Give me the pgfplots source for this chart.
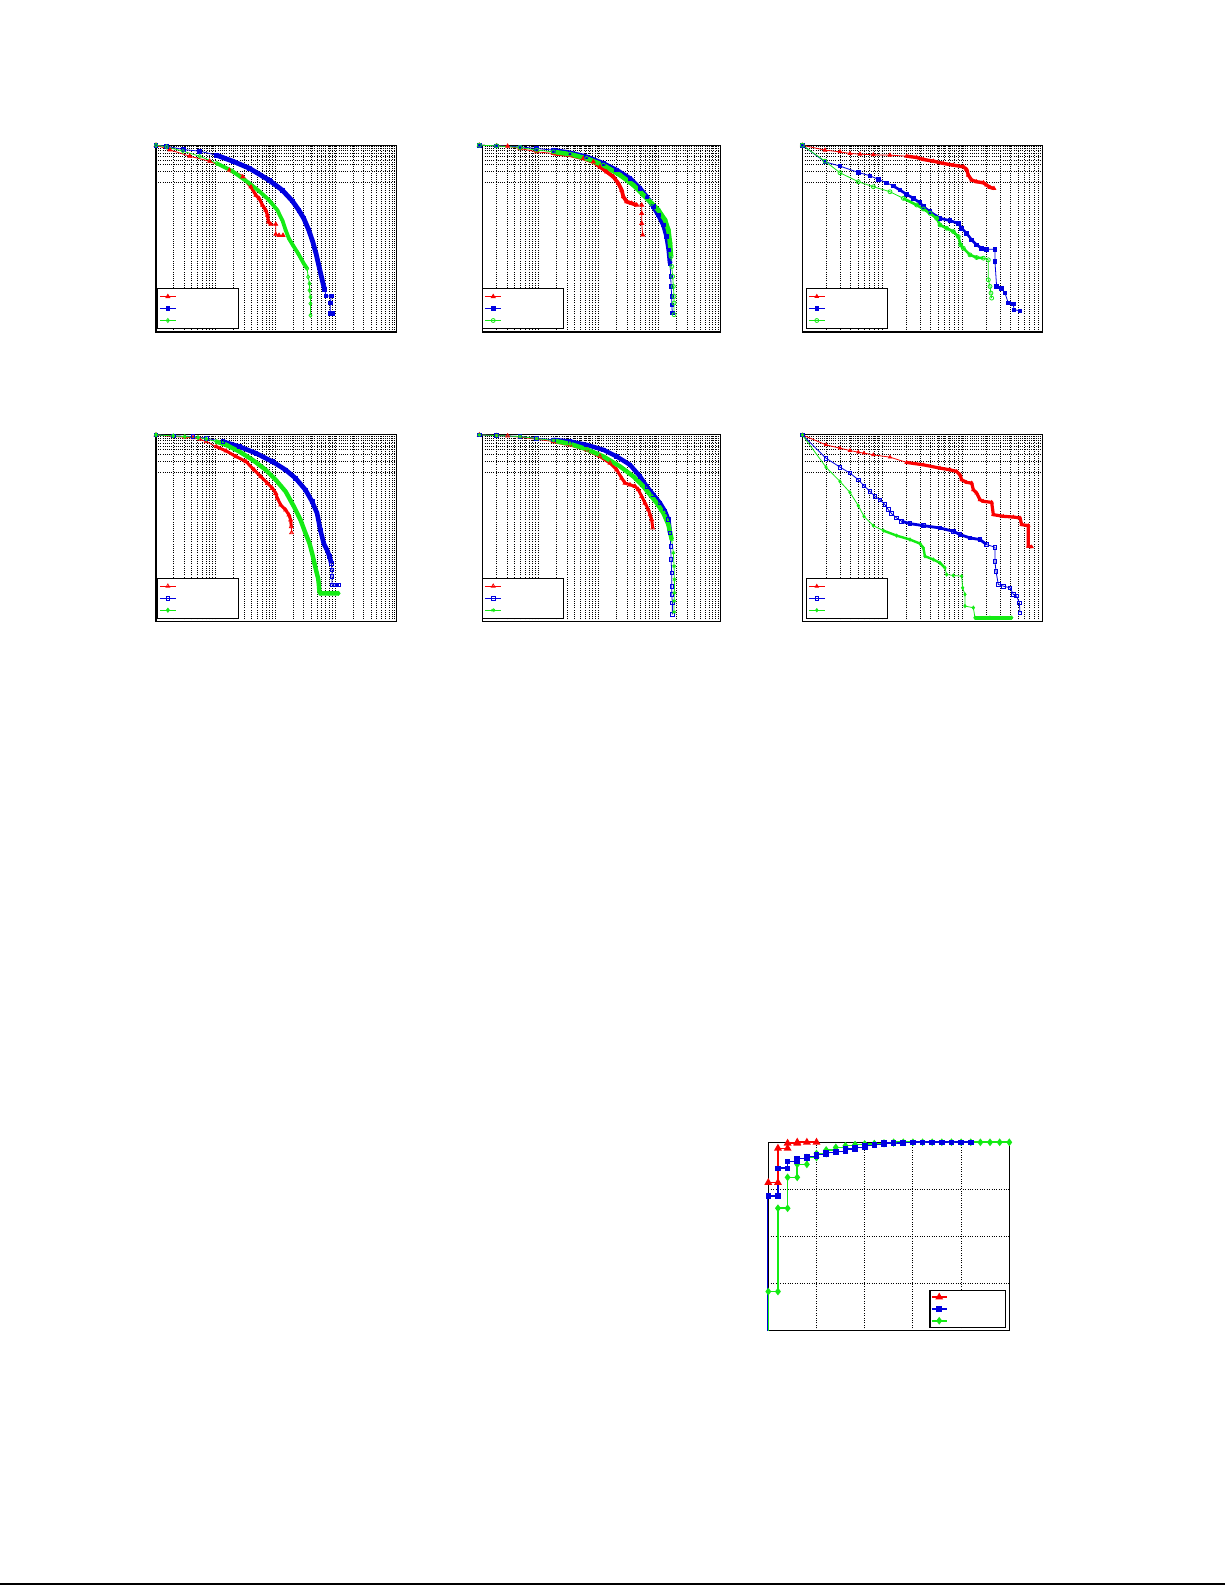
\documentclass[border=0pt]{standalone}
\usepackage{pgfplots}
\pgfplotsset{compat=1.18}
\usepackage{pgfplotstable}
\definecolor{cr}{RGB}{250,0,0}
\definecolor{cb}{RGB}{0,0,225}
\definecolor{cg}{RGB}{20,235,20}
\newcommand{\E}{\makebox[27bp]{\rule[-1.5bp]{0pt}{3bp}}}
\newcommand{\EB}{\makebox[26bp]{\rule[-2bp]{0pt}{4bp}}}
\pgfplotsset{
  ccdf/.style={
    scale only axis, height=93.4bp,
    ymin=-5, ymax=0,
    ytick={-1}, minor ytick={-0.699,-0.523,-0.398,-0.301,-0.222,-0.155,-0.097,-0.046},
    xticklabel=\empty, yticklabel=\empty,
    xmajorgrids, xminorgrids, ymajorgrids, yminorgrids,
    major grid style={black, line width=0.5bp, dash pattern=on 0.5bp off 0.6bp},
    minor grid style={black, line width=0.5bp, dash pattern=on 0.5bp off 0.6bp},
    major tick length=0pt, minor tick length=0pt,
    axis line style={line width=0.55bp},
    legend style={anchor=south west, draw=black, line width=0.5bp, inner sep=1bp,
      row sep=0pt, font=\tiny, nodes={inner sep=1.5bp}, fill=white},
    legend image code/.code={\draw[mark repeat=2,mark phase=2,#1] plot coordinates {(0bp,0bp) (4bp,0bp) (8bp,0bp)};},
    legend entries={\E,\E,\E},
  },
  mx4/.style={xtick={1,2,3,4}, minor xtick={0.301,0.477,0.602,0.699,0.778,0.845,0.903,0.954,
      1.301,1.477,1.602,1.699,1.778,1.845,1.903,1.954,
      2.301,2.477,2.602,2.699,2.778,2.845,2.903,2.954,
      3.301,3.477,3.602,3.699,3.778,3.845,3.903,3.954}},
  mx3/.style={xtick={1,2}, minor xtick={0.301,0.477,0.602,0.699,0.778,0.845,0.903,0.954,
      1.301,1.477,1.602,1.699,1.778,1.845,1.903,1.954,
      2.301,2.477,2.602,2.699,2.778,2.845,2.903,2.954}},
  ser/.style={line width=0.4bp, mark size=1pt, mark options={solid, line width=0.4bp}},
  dense/.style={line width=1.6bp, forget plot, no markers},
}
% ---------------- P1 ----------------
\pgfplotstableread{
x y
0.000 0.000
0.233 -0.125
0.565 -0.295
0.898 -0.429
1.230 -0.670
1.452 -0.848
1.590 -1.116
1.673 -1.339
1.729 -1.429
1.784 -1.607
1.839 -1.741
1.867 -1.875
1.884 -2.054
1.922 -2.116
2.006 -2.116
2.006 -2.384
2.061 -2.411
2.127 -2.411
}\tAr
\pgfplotstableread{
x y
0.000 0.000
0.177 -0.027
0.454 -0.116
0.731 -0.161
1.014 -0.268
1.285 -0.429
1.562 -0.616
1.895 -0.938
2.116 -1.205
2.283 -1.491
2.393 -1.741
2.476 -1.964
2.560 -2.277
2.626 -2.589
2.681 -2.902
2.726 -3.214
2.765 -3.482
2.798 -3.705
2.825 -3.866
2.848 -4.036
2.936 -4.036
2.920 -4.223
2.920 -4.509
2.958 -4.509
}\tAb
\pgfplotstableread{
x y
0.000 0.000
0.177 -0.045
0.449 -0.161
0.731 -0.295
1.014 -0.482
1.280 -0.696
1.562 -1.018
1.729 -1.232
1.895 -1.473
2.033 -1.741
2.116 -2.009
2.172 -2.277
2.227 -2.500
2.294 -2.679
2.382 -2.902
2.476 -3.170
2.532 -3.304
2.548 -3.527
2.571 -3.705
2.571 -3.884
2.587 -4.063
2.587 -4.241
2.587 -4.554
}\tAg
% ---------------- P2 ----------------
\pgfplotstableread{
x y
0.011 0.000
0.300 -0.018
0.483 -0.027
0.689 -0.089
0.967 -0.178
1.244 -0.222
1.522 -0.267
1.744 -0.356
1.911 -0.445
2.022 -0.578
2.133 -0.712
2.244 -0.845
2.328 -1.024
2.383 -1.202
2.411 -1.380
2.467 -1.513
2.550 -1.557
2.633 -1.602
2.717 -1.602
2.717 -1.825
2.717 -2.091
2.733 -2.402
}\tBr
\pgfplotstableread{
x y
0.011 0.000
0.300 -0.018
0.689 -0.044
0.967 -0.089
1.244 -0.133
1.522 -0.205
1.800 -0.311
2.078 -0.489
2.300 -0.667
2.522 -0.890
2.689 -1.157
2.800 -1.379
2.911 -1.645
2.994 -1.868
3.078 -2.135
3.133 -2.447
3.167 -2.803
3.189 -3.158
3.200 -3.514
3.206 -3.781
3.217 -4.048
3.217 -4.270
3.228 -4.493
}\tBb
\pgfplotstableread{
x y
0.011 0.000
0.300 -0.018
0.689 -0.062
0.967 -0.133
1.244 -0.178
1.522 -0.240
1.800 -0.356
2.078 -0.534
2.356 -0.801
2.578 -1.068
2.744 -1.335
2.883 -1.557
2.994 -1.735
3.106 -2.002
3.161 -2.269
3.189 -2.625
3.206 -2.980
3.217 -3.247
3.233 -3.514
3.244 -3.781
3.256 -4.048
3.256 -4.226
3.256 -4.537
}\tBg
% ---------------- P3 ----------------
\pgfplotstableread{
x y
0.000 0.000
0.283 -0.133
0.471 -0.178
0.596 -0.222
0.721 -0.240
0.888 -0.258
1.096 -0.267
1.304 -0.294
1.429 -0.329
1.513 -0.383
1.638 -0.427
1.763 -0.489
1.888 -0.534
2.013 -0.578
2.054 -0.649
2.075 -0.801
2.117 -0.934
2.179 -0.979
2.263 -1.005
2.304 -1.068
2.346 -1.130
2.396 -1.157
}\tCr
\pgfplotstableread{
x y
0.000 0.000
0.283 -0.445
0.471 -0.560
0.700 -0.730
0.846 -0.819
0.950 -0.916
1.054 -1.005
1.138 -1.094
1.221 -1.201
1.304 -1.317
1.388 -1.423
1.471 -1.539
1.513 -1.646
1.596 -1.779
1.721 -1.957
1.846 -2.020
1.950 -2.091
1.992 -2.224
2.054 -2.358
2.117 -2.536
2.179 -2.669
2.242 -2.758
2.304 -2.785
2.408 -2.785
2.408 -3.114
2.429 -3.781
2.492 -3.826
2.533 -3.959
2.575 -4.226
2.638 -4.253
2.646 -4.404
2.721 -4.431
}\tCb
\pgfplotstableread{
x y
0.000 0.000
0.283 -0.427
0.471 -0.738
0.700 -0.979
0.888 -1.112
1.096 -1.246
1.263 -1.423
1.429 -1.601
1.513 -1.708
1.596 -1.824
1.679 -1.957
1.721 -2.135
1.804 -2.224
1.888 -2.313
1.950 -2.447
1.979 -2.669
2.013 -2.758
2.096 -2.936
2.179 -3.007
2.263 -3.025
2.325 -3.069
2.325 -3.603
2.346 -3.781
2.358 -3.959
2.367 -4.093
}\tCg
% ---------------- P4 ----------------
\pgfplotstableread{
x y
0.000 0.000
0.288 -0.045
0.482 -0.063
0.620 -0.071
0.731 -0.116
0.842 -0.179
1.008 -0.313
1.175 -0.429
1.341 -0.580
1.507 -0.714
1.645 -0.938
1.756 -1.116
1.867 -1.295
1.950 -1.429
2.006 -1.563
2.033 -1.696
2.089 -1.875
2.172 -2.009
2.227 -2.143
2.255 -2.277
2.266 -2.455
2.271 -2.616
}\tDr
\pgfplotstableread{
x y
0.000 0.000
0.288 -0.027
0.620 -0.045
0.842 -0.089
1.119 -0.179
1.396 -0.313
1.673 -0.491
1.950 -0.714
2.172 -0.938
2.338 -1.161
2.504 -1.473
2.615 -1.786
2.698 -2.098
2.753 -2.545
2.809 -2.902
2.864 -3.080
2.909 -3.259
2.936 -3.438
2.947 -3.616
2.947 -3.795
2.947 -4.018
3.003 -4.018
3.058 -4.018
}\tDb
\pgfplotstableread{
x y
0.000 0.000
0.288 -0.027
0.482 -0.045
0.704 -0.071
0.842 -0.107
1.008 -0.179
1.175 -0.268
1.396 -0.446
1.618 -0.670
1.839 -0.938
2.006 -1.205
2.172 -1.518
2.310 -1.920
2.421 -2.277
2.504 -2.634
2.571 -2.902
2.615 -3.170
2.654 -3.438
2.687 -3.661
2.715 -3.839
2.726 -3.973
2.737 -4.196
2.753 -4.241
2.892 -4.241
3.058 -4.241
}\tDg
% ---------------- P5 ----------------
\pgfplotstableread{
x y
0.011 0.000
0.300 -0.018
0.483 -0.027
0.689 -0.062
0.967 -0.116
1.244 -0.178
1.522 -0.267
1.800 -0.400
2.022 -0.578
2.189 -0.756
2.300 -0.934
2.383 -1.157
2.439 -1.290
2.522 -1.335
2.606 -1.379
2.661 -1.468
2.717 -1.646
2.772 -1.824
2.828 -2.002
2.856 -2.135
2.883 -2.269
2.900 -2.491
}\tEr
\pgfplotstableread{
x y
0.011 0.000
0.300 -0.018
0.689 -0.044
0.967 -0.089
1.244 -0.133
1.522 -0.178
1.800 -0.267
2.078 -0.400
2.300 -0.578
2.522 -0.801
2.689 -1.112
2.800 -1.379
2.911 -1.602
3.022 -1.824
3.106 -2.047
3.161 -2.269
3.189 -2.625
3.200 -2.980
3.206 -3.336
3.217 -3.692
3.217 -4.048
3.217 -4.270
3.228 -4.493
3.228 -4.804
}\tEb
\pgfplotstableread{
x y
0.011 0.000
0.300 -0.018
0.689 -0.044
0.967 -0.098
1.244 -0.151
1.522 -0.240
1.800 -0.383
2.078 -0.578
2.356 -0.845
2.578 -1.112
2.744 -1.379
2.856 -1.602
2.967 -1.824
3.078 -2.091
3.161 -2.402
3.217 -2.803
3.244 -3.158
3.256 -3.514
3.261 -3.870
3.261 -4.226
3.256 -4.448
3.256 -4.742
}\tEg
% ---------------- P6 ----------------
\pgfplotstableread{
x y
0.000 0.000
0.296 -0.267
0.471 -0.356
0.596 -0.418
0.700 -0.463
0.771 -0.489
0.888 -0.534
1.096 -0.596
1.304 -0.738
1.513 -0.801
1.721 -0.890
1.846 -0.934
1.929 -0.979
1.971 -1.068
1.992 -1.201
2.054 -1.272
2.117 -1.290
2.138 -1.468
2.179 -1.557
2.221 -1.735
2.263 -1.779
2.367 -1.806
2.388 -2.135
2.513 -2.180
2.638 -2.198
2.721 -2.224
2.742 -2.402
2.825 -2.429
2.825 -2.980
2.867 -2.998
}\tFr
\pgfplotstableread{
x y
0.000 0.000
0.296 -0.623
0.471 -0.863
0.596 -1.023
0.700 -1.201
0.771 -1.361
0.846 -1.512
0.908 -1.646
0.971 -1.735
1.033 -1.868
1.075 -2.002
1.117 -2.109
1.179 -2.224
1.242 -2.313
1.346 -2.375
1.513 -2.429
1.721 -2.491
1.888 -2.580
1.971 -2.669
2.096 -2.758
2.221 -2.802
2.304 -2.936
2.408 -3.007
2.408 -3.381
2.421 -3.648
2.450 -4.004
2.513 -4.048
2.596 -4.093
2.638 -4.270
2.679 -4.315
2.713 -4.493
2.721 -4.760
}\tFb
\pgfplotstableread{
x y
0.000 0.000
0.296 -0.863
0.471 -1.246
0.596 -1.539
0.700 -1.895
0.771 -2.180
0.888 -2.429
1.013 -2.562
1.179 -2.696
1.346 -2.802
1.471 -2.909
1.513 -3.025
1.533 -3.247
1.638 -3.336
1.721 -3.425
1.783 -3.559
1.804 -3.737
1.888 -3.763
1.992 -3.781
2.004 -4.093
2.033 -4.270
2.033 -4.582
2.138 -4.626
2.158 -4.893
2.346 -4.893
2.617 -4.893
}\tFg
\begin{document}
\begin{tikzpicture}
\path[use as bounding box] (0,0) rectangle (612.5bp,792.5bp);
\draw[line width=0.7bp] (0,0.5bp) -- (612.5bp,0.5bp);

% P1
\begin{axis}[ccdf, mx4, at={(78bp,626.5bp)}, anchor=south west, width=120.3bp,
  xmin=0, xmax=4.03, legend style={at={(0.004,0.016)}}]
\addplot[cr, dense, restrict x to domain=1.1:1.93] table {\tAr};
\addplot[cr, ser, mark=triangle*, mark size=1.1pt] table {\tAr};
\addplot[cb, dense, line width=2.4bp, restrict x to domain=0.9:2.83] table {\tAb};
\addplot[cb, ser, mark=square*, mark size=0.9pt] table {\tAb};
\addplot[cg, dense, line width=1.9bp, restrict x to domain=0.9:2.54] table {\tAg};
\addplot[cg, ser, mark=diamond] table {\tAg};
\end{axis}

% P2
\begin{axis}[ccdf, mx4, at={(241.15bp,626.5bp)}, anchor=south west, width=119.2bp,
  xmin=0.061, xmax=4.033, clip=false, legend style={at={(0,0.016)}}]
\addplot[cr, dense, line width=1.9bp, restrict x to domain=1.2:2.7] table {\tBr};
\addplot[cr, ser, mark=triangle*, mark size=1.1pt] table {\tBr};
\addplot[cb, dense, line width=2.3bp, restrict x to domain=1.2:3.19] table {\tBb};
\addplot[cb, ser, mark=square*, mark size=0.9pt] table {\tBb};
\addplot[cg, dense, line width=2.3bp, restrict x to domain=1.2:3.21] table {\tBg};
\addplot[cg, ser, mark=o] table {\tBg};
\end{axis}

% P3
\begin{axis}[ccdf, mx3, at={(401.15bp,626.5bp)}, anchor=south west, width=120bp,
  xmin=0, xmax=3, legend style={at={(0.015,0.016)}}]
\addplot[cr, dense, line width=1.7bp, restrict x to domain=1.3:2.4] table {\tCr};
\addplot[cr, ser, mark=triangle*, mark size=1pt] table {\tCr};
\addplot[cb, dense, line width=1.3bp, restrict x to domain=1.1:2.31] table {\tCb};
\addplot[cb, ser, mark=square*, mark size=0.9pt] table {\tCb};
\addplot[cg, dense, line width=1.3bp, restrict x to domain=1.1:2.3] table {\tCg};
\addplot[cg, ser, mark=o] table {\tCg};
\end{axis}

% P4
\begin{axis}[ccdf, mx4, at={(78bp,481.65bp)}, anchor=south west, width=120.3bp,
  xmin=0, xmax=4.03, legend style={at={(0.004,0.016)}}]
\addplot[cr, dense, line width=1.5bp, restrict x to domain=1.0:2.27] table {\tDr};
\addplot[cr, ser, mark=triangle, mark size=1.1pt] table {\tDr};
\addplot[cb, dense, line width=2.3bp, restrict x to domain=1.0:2.94] table {\tDb};
\addplot[cb, dense, line width=2.0bp, restrict x to domain=2.95:3.06] table {\tDb};
\addplot[cb, ser, mark=square, mark size=0.9pt] table {\tDb};
\addplot[cg, dense, line width=2.2bp, restrict x to domain=1.0:3.06] table {\tDg};
\addplot[cg, ser, mark=diamond*] table {\tDg};
\end{axis}

% P5
\begin{axis}[ccdf, mx4, at={(241.15bp,481.65bp)}, anchor=south west, width=119.2bp,
  xmin=0.061, xmax=4.033, clip=false, legend style={at={(0,0.016)}}]
\addplot[cr, dense, line width=1.5bp, restrict x to domain=1.2:2.9] table {\tEr};
\addplot[cr, ser, mark=triangle, mark size=1.1pt] table {\tEr};
\addplot[cb, dense, line width=2.2bp, restrict x to domain=1.2:3.19] table {\tEb};
\addplot[cb, ser, mark=square, mark size=0.9pt] table {\tEb};
\addplot[cg, dense, line width=2.2bp, restrict x to domain=1.2:3.22] table {\tEg};
\addplot[cg, ser, mark=asterisk] table {\tEg};
\end{axis}

% P6
\begin{axis}[ccdf, mx3, at={(401.15bp,481.65bp)}, anchor=south west, width=120bp,
  xmin=0, xmax=3, legend style={at={(0.015,0.016)}}]
\addplot[cr, dense, line width=1.6bp, restrict x to domain=1.3:2.87] table {\tFr};
\addplot[cr, ser, mark=triangle*, mark size=0.9pt] table {\tFr};
\addplot[cb, dense, line width=1.4bp, restrict x to domain=1.2:2.4] table {\tFb};
\addplot[cb, ser, mark=square, mark size=0.9pt] table {\tFb};
\addplot[cg, dense, line width=1.2bp, restrict x to domain=1.0:1.8] table {\tFg};
\addplot[cg, dense, line width=1.9bp, restrict x to domain=2.15:2.62] table {\tFg};
\addplot[cg, ser, mark=diamond*, mark size=0.8pt] table {\tFg};
\end{axis}

% Bottom CDF plot
\begin{axis}[scale only axis, at={(384.15bp,127.15bp)}, anchor=south west,
  width=120.5bp, height=94.2bp,
  xmin=0, xmax=25, ymin=0, ymax=1, clip=false,
  xtick={5,10,15,20}, ytick={0.25,0.5,0.75},
  xticklabel=\empty, yticklabel=\empty,
  grid=major, major grid style={black, line width=0.5bp, dash pattern=on 0.5bp off 0.7bp},
  major tick length=0pt,
  axis line style={line width=0.7bp},
  legend style={at={(0.986,0.013)}, anchor=south east, draw=black, line width=0.6bp,
    inner sep=0.5bp, row sep=0pt, font=\tiny, nodes={inner sep=1.2bp}},
  legend image code/.code={\draw[mark repeat=2,mark phase=2,#1] plot coordinates {(0bp,0bp) (3.75bp,0bp) (7.5bp,0bp)};},
  reverse legend,
  every axis plot/.append style={line width=0.8bp, mark options={solid}},
]
\addplot[cg, no markers, forget plot] coordinates {(0,0) (0,0.208)};
\addplot[cb, no markers, forget plot] coordinates {(-0.1,0) (-0.1,0.716)};
\addplot[cg, mark=diamond*, mark size=1.3pt] coordinates {
(0,0.208)(1,0.208)(1,0.650)(2,0.650)(2,0.814)(3,0.814)(3,0.883)(4,0.883)(4,0.919)(5,0.919)
(5,0.940)(6,0.940)(6,0.959)(7,0.959)(7,0.973)(8,0.973)(8,0.982)(9,0.982)(9,0.988)(10,0.988)
(10,0.991)(11,0.991)(11,0.993)(12,0.993)(12,0.996)(13,0.996)(13,1)(14,1)(15,1)(16,1)(17,1)
(18,1)(19,1)(20,1)(21,1)(22,1)(23,1)(24,1)(25,1)};
\addlegendentry{\EB}
\addplot[cb, mark=square*, mark size=1pt] coordinates {
(0,0.716)(1,0.716)(1,0.862)(2,0.862)(2,0.898)(3,0.898)(3,0.915)(4,0.915)(4,0.924)(5,0.924)
(5,0.936)(6,0.936)(6,0.945)(7,0.945)(7,0.951)(8,0.951)(8,0.963)(9,0.963)(9,0.972)(10,0.972)
(10,0.982)(11,0.982)(11,0.989)(12,0.989)(12,0.995)(13,0.995)(13,0.996)(14,0.996)(14,0.998)
(15,0.998)(15,1)(16,1)(17,1)(18,1)(19,1)(20,1)(21,1)};
\addlegendentry{\EB}
\addplot[cr, mark=triangle*, mark size=1.5pt] coordinates {
(0,0.786)(1,0.786)(1,0.968)(2,0.968)(2,0.995)(3,0.995)(3,1)(4,1)(5,1)};
\addlegendentry{\EB}
\end{axis}
\end{tikzpicture}
\end{document}
